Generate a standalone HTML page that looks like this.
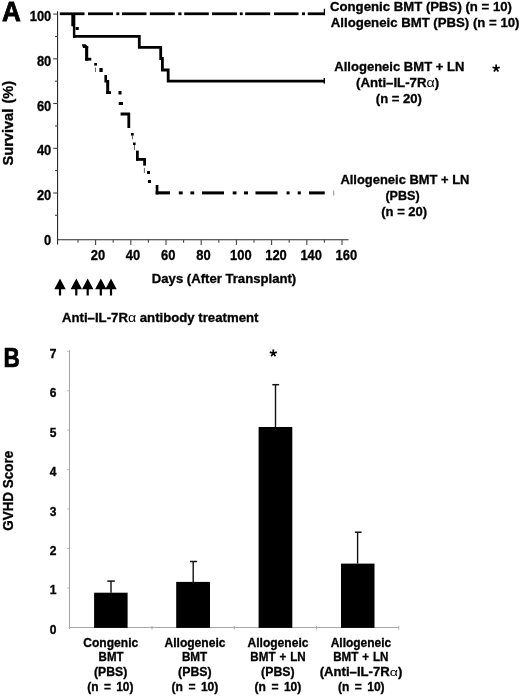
<!DOCTYPE html>
<html><head><meta charset="utf-8"><title>Figure</title>
<style>
html,body{margin:0;padding:0;background:#fff;}
body{width:520px;height:696px;overflow:hidden;font-family:"Liberation Sans",sans-serif;}
svg{display:block;position:absolute;left:0;top:0;filter:grayscale(1);}
text{font-family:"Liberation Sans",sans-serif;font-weight:bold;fill:#000;stroke:#000;stroke-width:0.32px;}
.t13{font-size:13px;}
.t12{font-size:12px;}
.m{text-anchor:middle;}
.e{text-anchor:end;}
</style></head><body>
<svg width="520" height="696" viewBox="0 0 520 696">
<rect width="520" height="696" fill="#fff"/>
<text transform="translate(2.10 21.4) scale(0.9392 1)" style="font-size:27.8px;word-spacing:0.00px;stroke-width:0.8px;">A</text>
<g stroke="#2a2a2a" stroke-width="1.1" fill="none">
<path d="M57.55 11.2V244.6"/>
<path d="M57.5 239.8H348.6"/>
</g>
<g stroke="#444" stroke-width="1.1" fill="none">
<path d="M53.2 14.1H57.6"/><path d="M55 36.5H57.6"/><path d="M53.2 58.8H57.6"/><path d="M55 81.2H57.6"/><path d="M53.2 103.5H57.6"/><path d="M55 125.9H57.6"/><path d="M53.2 148.3H57.6"/><path d="M55 170.6H57.6"/><path d="M53.2 193.0H57.6"/><path d="M55 215.3H57.6"/>
<path d="M95.6 239.8V245"/><path d="M78.0 239.8V242.8"/><path d="M130.8 239.8V245"/><path d="M113.2 239.8V242.8"/><path d="M166.0 239.8V245"/><path d="M148.4 239.8V242.8"/><path d="M201.2 239.8V245"/><path d="M183.6 239.8V242.8"/><path d="M236.4 239.8V245"/><path d="M218.8 239.8V242.8"/><path d="M271.6 239.8V245"/><path d="M254.0 239.8V242.8"/><path d="M306.8 239.8V245"/><path d="M289.2 239.8V242.8"/><path d="M342.0 239.8V245"/><path d="M324.4 239.8V242.8"/>
</g>
<text transform="translate(51.3 21.2) scale(0.905 1)" style="font-size:14.3px;text-anchor:end">100</text><text transform="translate(51.3 65.9) scale(0.905 1)" style="font-size:14.3px;text-anchor:end">80</text><text transform="translate(51.3 110.6) scale(0.905 1)" style="font-size:14.3px;text-anchor:end">60</text><text transform="translate(51.3 155.4) scale(0.905 1)" style="font-size:14.3px;text-anchor:end">40</text><text transform="translate(51.3 200.1) scale(0.905 1)" style="font-size:14.3px;text-anchor:end">20</text><text transform="translate(51.3 244.6) scale(0.905 1)" style="font-size:14.3px;text-anchor:end">0</text>
<text transform="translate(90.7 259.9) scale(0.905 1)" style="font-size:14.3px;text-anchor:start">20</text><text transform="translate(125.7 259.9) scale(0.905 1)" style="font-size:14.3px;text-anchor:start">40</text><text transform="translate(161.0 259.9) scale(0.905 1)" style="font-size:14.3px;text-anchor:start">60</text><text transform="translate(196.29999999999998 259.9) scale(0.905 1)" style="font-size:14.3px;text-anchor:start">80</text><text transform="translate(230.0 259.9) scale(0.905 1)" style="font-size:14.3px;text-anchor:start">100</text><text transform="translate(265.2 259.9) scale(0.905 1)" style="font-size:14.3px;text-anchor:start">120</text><text transform="translate(300.4 259.9) scale(0.905 1)" style="font-size:14.3px;text-anchor:start">140</text><text transform="translate(335.5 259.9) scale(0.905 1)" style="font-size:14.3px;text-anchor:start">160</text>
<text transform="translate(12.5 165.50) rotate(-90) scale(0.9609 1)" style="font-size:15.2px;word-spacing:1.22px;">Survival (%)</text>
<text transform="translate(151.80 283.1) scale(0.9954 1)" style="font-size:13.2px;word-spacing:0.00px;">Days (After Transplant)</text>
<g transform="translate(62.00 322.3) scale(0.9987 1)" style="font-size:13.2px;word-spacing:0.00px;"><text>Anti–IL-7R<tspan dx="8.24"> antibody treatment</tspan></text><text transform="translate(66.00 0) scale(1.2 1)" style="font-weight:normal;stroke:none;font-size:11.88px;word-spacing:0">α</text></g>
<path d="M60 278.4L65.7 289.3H61.1V295.4H58.9V289.3H54.3Z" fill="#000"/><path d="M76.3 278.4L82.0 289.3H77.4V295.4H75.2V289.3H70.6Z" fill="#000"/><path d="M87.7 278.4L93.4 289.3H88.8V295.4H86.6V289.3H82.0Z" fill="#000"/><path d="M100.8 278.4L106.5 289.3H101.9V295.4H99.7V289.3H95.1Z" fill="#000"/><path d="M111 278.4L116.7 289.3H112.1V295.4H109.9V289.3H105.3Z" fill="#000"/>
<text transform="translate(330.00 10.7) scale(0.9985 1)" style="font-size:13.2px;word-spacing:0.00px;">Congenic BMT (PBS) (n = 10)</text>
<text transform="translate(330.80 26.5) scale(0.9996 1)" style="font-size:13.2px;word-spacing:0.00px;">Allogeneic BMT (PBS) (n = 10)</text>
<text transform="translate(334.30 71.3) scale(0.9892 1)" style="font-size:13.2px;word-spacing:0.00px;">Allogeneic BMT + LN</text>
<g transform="translate(356.00 87.1) scale(1.0017 1)" style="font-size:13.2px;word-spacing:0.00px;"><text>(Anti–IL-7R<tspan dx="8.24">)</tspan></text><text transform="translate(70.40 0) scale(1.2 1)" style="font-weight:normal;stroke:none;font-size:11.88px;word-spacing:0">α</text></g>
<text transform="translate(375.80 102.5) scale(0.9913 1)" style="font-size:13.2px;word-spacing:0.00px;">(n = 20)</text>
<text transform="translate(340.40 183.8) scale(0.9816 1)" style="font-size:13.2px;word-spacing:0.00px;">Allogeneic BMT + LN</text>
<text transform="translate(385.40 200.2) scale(0.9510 1)" style="font-size:13.2px;word-spacing:0.00px;">(PBS)</text>
<text transform="translate(381.20 216) scale(0.9891 1)" style="font-size:13.2px;word-spacing:0.00px;">(n = 20)</text>
<path d="M496.15 68.4L496.15 64.60M496.15 68.4L499.76 67.23M496.15 68.4L498.38 71.47M496.15 68.4L493.92 71.47M496.15 68.4L492.54 67.23" stroke="#000" stroke-width="1.7" fill="none"/>
<g fill="#000">
<rect x="59.8" y="12.4" width="24.70" height="2.75"/><rect x="88" y="12.4" width="25.00" height="2.75"/><rect x="116.3" y="12.4" width="3.00" height="2.75"/><rect x="121.9" y="12.4" width="24.60" height="2.75"/><rect x="149.8" y="12.4" width="25.00" height="2.75"/><rect x="178.3" y="12.4" width="3.20" height="2.75"/><rect x="184.2" y="12.4" width="24.60" height="2.75"/><rect x="212" y="12.4" width="25.00" height="2.75"/><rect x="239.8" y="12.4" width="2.90" height="2.75"/><rect x="245.2" y="12.4" width="25.00" height="2.75"/><rect x="274" y="12.4" width="24.50" height="2.75"/><rect x="302" y="12.4" width="3.00" height="2.75"/><rect x="307.75" y="12.4" width="17.00" height="2.75"/><rect x="323.75" y="8.75" width="1.3" height="6.5"/>
</g>
<path d="M73 36.4H139.3V47.3H160.7V58.5H162.4V70H168.2V81.1H324.7" stroke="#000" stroke-width="2.8" fill="none" stroke-linejoin="miter"/><rect x="72.9" y="14" width="2.4" height="23.8" fill="#000"/>
<rect x="323.6" y="78" width="1.4" height="5.6" fill="#000"/>
<g fill="#000">
<rect x="71.3" y="15" width="3.20" height="11.30"/><rect x="75.6" y="27" width="3.15" height="3.00"/><path d="M81.8 44.2H85.4L88.2 46.4V48H83Z"/><rect x="85.1" y="46" width="3.10" height="14.60"/><rect x="85.1" y="57.8" width="6.20" height="2.80"/><rect x="94.2" y="63" width="2.80" height="2.60"/><rect x="99.4" y="68" width="3.30" height="4.00"/><rect x="104.4" y="75" width="2.60" height="7.50"/><rect x="106.2" y="80" width="3.00" height="14.00"/><rect x="106.2" y="91.2" width="4.80" height="2.80"/><rect x="118.5" y="91" width="3.00" height="3.50"/><rect x="118.75" y="102" width="4.25" height="3.00"/><rect x="120.6" y="112.5" width="9.40" height="3.00"/><rect x="127.4" y="113" width="2.80" height="15.00"/><rect x="131" y="133" width="2.75" height="2.60"/><rect x="133" y="142.5" width="2.60" height="2.50"/><rect x="136" y="150.6" width="2.75" height="9.90"/><rect x="136" y="158" width="10.00" height="2.80"/><rect x="143.2" y="158" width="2.80" height="7.60"/><rect x="147" y="171" width="3.00" height="3.00"/><rect x="148" y="180" width="3.00" height="3.00"/><rect x="155.7" y="185" width="2.70" height="9.40"/><rect x="155.7" y="191.3" width="14.30" height="3.10"/><rect x="178.8" y="191.4" width="3.90" height="3.00"/><rect x="190.4" y="191.4" width="3.80" height="3.00"/><rect x="202" y="191.4" width="22.00" height="3.00"/><rect x="232.7" y="191.4" width="3.80" height="3.00"/><rect x="244" y="191.4" width="4.00" height="3.00"/><rect x="255.5" y="191.4" width="22.00" height="3.00"/><rect x="286.6" y="191.4" width="3.00" height="3.00"/><rect x="297.7" y="191.4" width="3.10" height="3.00"/><rect x="309" y="191.4" width="15.75" height="3.00"/></g>
<g stroke="#555" stroke-width="0.9"><path d="M95.5 67.5V72"/><path d="M132.5 135.6V139.4"/><path d="M134.5 145V150"/><path d="M144.4 168V173"/><path d="M333.75 190.6V195.6" stroke="#888"/></g>
<text transform="translate(3.40 366.9) scale(0.8143 1)" style="font-size:27.8px;word-spacing:0.00px;stroke-width:0.7px;">B</text>
<g stroke="#a6a6a6" stroke-width="1" fill="none">
<path d="M69.5 350V629"/><path d="M68.6 627.5H398.8" stroke="#a8a8a8"/></g><g stroke="#c4c4c4" stroke-width="1" fill="none"><path d="M67 587.9H69"/><path d="M67 548.5H69"/><path d="M67 509.0H69"/><path d="M67 469.6H69"/><path d="M67 430.2H69"/><path d="M67 390.8H69"/><path d="M67 351.4H69"/><path d="M152 626V629.5" stroke="#aaa"/><path d="M234.25 626V629.5" stroke="#aaa"/><path d="M316.6 626V629.5" stroke="#aaa"/><path d="M398.75 626V629.5" stroke="#aaa"/>
</g>
<text class="t12 e" x="56.5" y="633.8">0</text><text class="t12 e" x="56.5" y="594.4">1</text><text class="t12 e" x="56.5" y="555.0">2</text><text class="t12 e" x="56.5" y="515.5">3</text><text class="t12 e" x="56.5" y="476.1">4</text><text class="t12 e" x="56.5" y="436.7">5</text><text class="t12 e" x="56.5" y="397.3">6</text><text class="t12 e" x="56.5" y="357.9">7</text>
<text transform="translate(12.9 530.80) rotate(-90) scale(0.9612 1)" style="font-size:14.0px;word-spacing:0.00px;">GVHD Score</text>
<rect x="94.1" y="592.7" width="33.50" height="35.20" fill="#000"/><path d="M111 592.7V581.1" stroke="#111" stroke-width="1.4"/><path d="M107.3 581.1H114.8" stroke="#111" stroke-width="1.5"/>
<rect x="176.2" y="581.9" width="33.80" height="46.00" fill="#000"/><path d="M193.2 581.9V561.5" stroke="#111" stroke-width="1.4"/><path d="M190 561.5H197.1" stroke="#111" stroke-width="1.5"/>
<rect x="258.6" y="427" width="33.70" height="200.90" fill="#000"/><path d="M275.5 427V384.7" stroke="#111" stroke-width="1.4"/><path d="M272.3 384.7H279.1" stroke="#111" stroke-width="1.5"/>
<rect x="341" y="563.6" width="33.50" height="64.30" fill="#000"/><path d="M357.6 563.6V532.2" stroke="#111" stroke-width="1.4"/><path d="M354.9 532.2H361.6" stroke="#111" stroke-width="1.5"/>
<path d="M273.3 353.3L273.30 349.60M273.3 353.3L276.82 352.16M273.3 353.3L275.47 356.29M273.3 353.3L271.13 356.29M273.3 353.3L269.78 352.16" stroke="#000" stroke-width="1.7" fill="none"/>
<text transform="translate(83.30 646.7) scale(0.9738 1)" style="font-size:12.4px;word-spacing:2.11px;">Congenic</text>
<text transform="translate(98.60 661.3) scale(0.9274 1)" style="font-size:12.4px;word-spacing:2.11px;">BMT</text>
<text transform="translate(94.00 676.0) scale(0.9858 1)" style="font-size:12.4px;word-spacing:2.11px;">(PBS)</text>
<text transform="translate(87.30 691.2) scale(0.9625 1)" style="font-size:12.4px;word-spacing:2.11px;">(n = 10)</text>
<text transform="translate(164.50 646.7) scale(0.9731 1)" style="font-size:12.4px;word-spacing:2.11px;">Allogeneic</text>
<text transform="translate(181.90 661.3) scale(0.9460 1)" style="font-size:12.4px;word-spacing:2.11px;">BMT</text>
<text transform="translate(178.10 676.0) scale(0.9917 1)" style="font-size:12.4px;word-spacing:2.11px;">(PBS)</text>
<text transform="translate(171.60 691.2) scale(0.9750 1)" style="font-size:12.4px;word-spacing:2.11px;">(n = 10)</text>
<text transform="translate(247.50 646.7) scale(0.9731 1)" style="font-size:12.4px;word-spacing:2.11px;">Allogeneic</text>
<text transform="translate(250.30 661.3) scale(0.9393 1)" style="font-size:12.4px;word-spacing:0.74px;">BMT + LN</text>
<text transform="translate(261.10 676.0) scale(0.9917 1)" style="font-size:12.4px;word-spacing:2.11px;">(PBS)</text>
<text transform="translate(254.60 691.2) scale(0.9750 1)" style="font-size:12.4px;word-spacing:2.11px;">(n = 10)</text>
<text transform="translate(330.70 646.7) scale(0.9651 1)" style="font-size:12.4px;word-spacing:2.11px;">Allogeneic</text>
<text transform="translate(333.20 661.3) scale(0.9376 1)" style="font-size:12.4px;word-spacing:0.74px;">BMT + LN</text>
<g transform="translate(319.70 676.0) scale(1.0599 1)" style="font-size:12.4px;word-spacing:2.11px;"><text>(Anti–IL-7R<tspan dx="7.74">)</tspan></text><text transform="translate(66.13 0) scale(1.2 1)" style="font-weight:normal;stroke:none;font-size:11.16px;word-spacing:0">α</text></g>
<text transform="translate(338.00 691.2) scale(0.9729 1)" style="font-size:12.4px;word-spacing:2.11px;">(n = 10)</text>
</svg></body></html>
